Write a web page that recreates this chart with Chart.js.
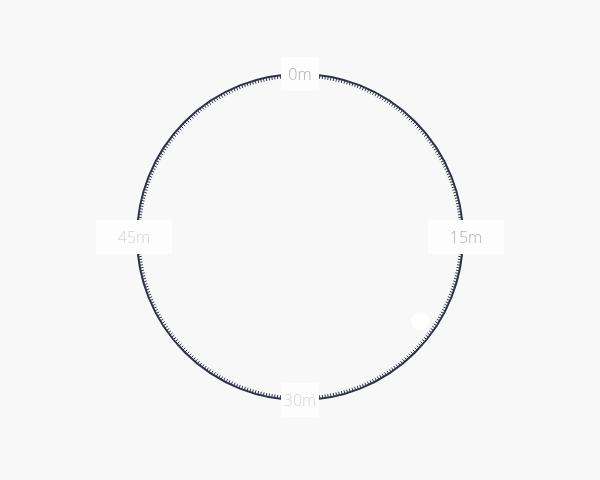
<!DOCTYPE html>
<html>
<head>
<meta charset="utf-8">
<script src="https://cdn.jsdelivr.net/npm/chart.js@4"></script>
<style>
  html, body { margin: 0; padding: 0; background: #f8f8f8; }
  canvas { display: block; }
</style>
</head>
<body>
<canvas id="clock" width="600" height="480"></canvas>
<script>
// Etiquetas de los cuartos y número de marcas del dial
const minuteLabels = ["0m", "15m", "30m", "45m"];
const labelColors = ["#adafb7", "#adafb7", "#d3d4d9", "#d3d4d9"];
const tickCount = 360;
// Un único punto blanco (minuto ~20.8, casi en el borde)
const markMinute = [20.8];
const markValue = [0.9];

const stepsPerLabel = tickCount / minuteLabels.length;
const labels = [];
for (let i = 0; i < tickCount; i++) {
  labels.push(i % stepsPerLabel === 0 ? minuteLabels[i / stepsPerLabel] : "");
}
const values = new Array(tickCount).fill(null);
markMinute.forEach((m, k) => {
  values[Math.round((m / 60) * tickCount)] = markValue[k];
});

// Marcas del dial y etiquetas con fondo blanco
const dialPlugin = {
  id: "dial",
  afterDatasetsDraw(chart) {
    const r = chart.scales.r;
    const ctx = chart.ctx;
    const R = r.drawingArea;
    ctx.save();
    ctx.strokeStyle = "#2c3246";
    ctx.lineWidth = 1;
    for (let i = 0; i < tickCount; i++) {
      const a = r.getIndexAngle(i) - Math.PI / 2;
      ctx.beginPath();
      ctx.moveTo(r.xCenter + Math.cos(a) * R, r.yCenter + Math.sin(a) * R);
      ctx.lineTo(r.xCenter + Math.cos(a) * (R - 3.5), r.yCenter + Math.sin(a) * (R - 3.5));
      ctx.stroke();
    }
    ctx.font = "300 16px 'Open Sans', Lato, sans-serif";
    ctx.textAlign = "center";
    ctx.textBaseline = "middle";
    minuteLabels.forEach((txt, k) => {
      const p = r.getPointPosition(k * stepsPerLabel, R);
      const side = k % 2 === 1;
      const w = side ? 76 : 38;
      const h = 34;
      const dx = side ? 3 * (k === 1 ? 1 : -1) : 0;
      ctx.fillStyle = "#fdfdfd";
      ctx.fillRect(p.x + dx - w / 2, p.y - h / 2, w, h);
      ctx.fillStyle = labelColors[k];
      ctx.fillText(txt, p.x + dx, p.y + 1);
    });
    ctx.restore();
  }
};

new Chart(document.getElementById("clock"), {
  type: "radar",
  data: {
    labels: labels,
    datasets: [
      {
        data: values,
        showLine: false,
        pointRadius: 9,
        pointBackgroundColor: "#ffffff",
        pointBorderWidth: 0,
        borderWidth: 0,
      },
    ],
  },
  options: {
    responsive: false,
    animation: false,
    layout: { padding: { top: 74, bottom: 80, left: 0, right: 0 } },
    plugins: { legend: { display: false }, tooltip: { enabled: false } },
    scales: {
      r: {
        min: 0,
        max: 1,
        ticks: { display: false, stepSize: 1 },
        grid: { circular: true, color: "#2c3246", lineWidth: 2 },
        angleLines: { display: false },
        pointLabels: { display: false },
      },
    },
  },
  plugins: [dialPlugin],
});
</script>
</body>
</html>
